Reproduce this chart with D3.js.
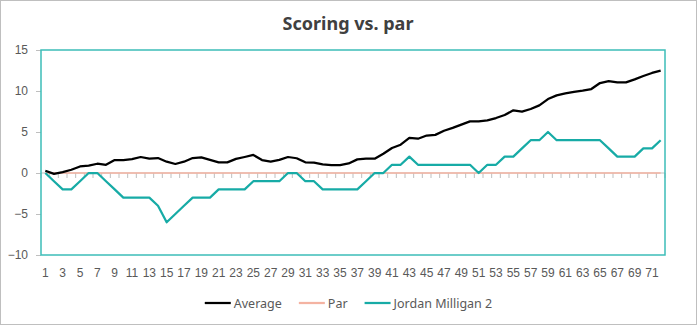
<!DOCTYPE html>
<html><head><meta charset="utf-8">
<script src="https://cdn.jsdelivr.net/npm/d3@7"></script>
<style>
html,body{margin:0;padding:0;background:#fff;}
svg{display:block;font-family:"Noto Sans","Open Sans",sans-serif;}
</style></head>
<body>
<svg id="chart" width="697" height="325"></svg>
<script>
const holes = d3.range(1, 73);
const average = [0.28,-0.1,0.1,0.4,0.8,0.9,1.13,1.0,1.58,1.58,1.7,1.95,1.75,1.82,1.38,1.1,1.38,1.82,1.9,1.6,
  1.3,1.3,1.72,1.95,2.2,1.58,1.38,1.6,1.95,1.8,1.3,1.26,1.05,0.97,0.97,1.17,1.66,1.74,1.74,2.35,
  3.05,3.45,4.27,4.18,4.57,4.65,5.15,5.5,5.9,6.3,6.3,6.42,6.7,7.07,7.64,7.48,7.8,8.25,9.02,9.47,
  9.7,9.9,10.04,10.24,10.97,11.2,11.05,11.05,11.42,11.83,12.2,12.48];
const par = holes.map(() => 0);
const jordan = [0,-1,-2,-2,-1,0,0,-1,-2,-3,-3,-3,-3,-4,-6,-5,-4,-3,-3,-3,
  -2,-2,-2,-2,-1,-1,-1,-1,0,0,-1,-1,-2,-2,-2,-2,-2,-1,0,0,
  1,1,2,1,1,1,1,1,1,1,0,1,1,2,2,3,4,4,5,4,
  4,4,4,4,4,3,2,2,2,3,3,4];
const yTicks = [15,10,5,0,-5,-10];
const seriesNames = ["Average","Par","Jordan Milligan 2"];
const seriesColors = ["#000000","#F4B3A2","#17ABA6"];

const svg = d3.select("#chart");
const W = 697, H = 325;
const mLeft = 41, mRight = 665, mTop = 50, mBottom = 255;

svg.append("rect").attr("x",0.5).attr("y",0.5).attr("width",W-1).attr("height",H-1)
  .attr("fill","#fff").attr("stroke","#BFBFBF");

svg.append("text").attr("x",348).attr("y",30).attr("text-anchor","middle")
  .attr("font-size","18px").attr("font-weight","bold").attr("fill","#404040")
  .text("Scoring vs. par");

const x = d3.scaleBand().domain(holes).range([mLeft,mRight]).padding(0);
const y = d3.scaleLinear().domain([-10,15]).range([mBottom,mTop]);
const cx = d => x(d) + x.bandwidth()/2;

// y axis
const yAxis = d3.axisLeft(y).tickValues(yTicks).tickSize(5).tickPadding(8);
const gy = svg.append("g").attr("transform",`translate(${mLeft},0)`).call(yAxis);
gy.select(".domain").remove();
gy.selectAll("line").attr("stroke","#BFBFBF");
gy.selectAll("text").attr("font-size","12px").attr("fill","#595959");

// x axis labels at bottom (low)
const xAxis = d3.axisBottom(x).tickValues(holes.filter(h => h % 2 === 1)).tickSize(0).tickPadding(13);
const gx = svg.append("g").attr("transform",`translate(0,${mBottom})`).call(xAxis);
gx.select(".domain").remove();
gx.selectAll("text").attr("font-size","12px").attr("fill","#595959");

// category tick marks at zero line
const bounds = holes.map(h => x(h)).concat([mRight]);
svg.append("g").selectAll("line").data(bounds).join("line")
  .attr("x1",d=>d).attr("x2",d=>d).attr("y1",y(0)).attr("y2",y(0)+5)
  .attr("stroke","#BFBFBF");
svg.append("line").attr("x1",mLeft).attr("x2",mRight).attr("y1",y(0)).attr("y2",y(0))
  .attr("stroke","#BFBFBF");

const line = d3.line().x((d,i) => cx(holes[i])).y(d => y(d));
const data = [average, par, jordan];
const widths = [2.25, 1.5, 2.25];
[1,2,0].forEach(k => {
  svg.append("path").datum(data[k]).attr("d",line).attr("fill","none")
    .attr("stroke",seriesColors[k]).attr("stroke-width",widths[k]).attr("stroke-linejoin","round");
});

// plot border
svg.append("rect").attr("x",mLeft).attr("y",mTop).attr("width",mRight-mLeft).attr("height",mBottom-mTop)
  .attr("fill","none").attr("stroke","#3CBDB8").attr("stroke-width",1.5);

// legend (centered)
const lg = svg.append("g");
const sampleW = 26, gapT = 3, gapE = 17, ly = 303;
let cursor = 0;
seriesNames.forEach((n,i) => {
  const g = lg.append("g").attr("transform",`translate(${cursor},0)`);
  g.append("line").attr("x1",0).attr("x2",sampleW).attr("y1",ly).attr("y2",ly)
    .attr("stroke",seriesColors[i]).attr("stroke-width",2.25);
  const t = g.append("text").attr("x",sampleW+gapT).attr("y",ly+4.5).attr("font-size","12.5px")
    .attr("fill","#595959").text(n);
  cursor += sampleW + gapT + t.node().getComputedTextLength() + gapE;
});
const totalW = cursor - gapE;
lg.attr("transform",`translate(${(W-totalW)/2},0)`);
</script>
</body></html>
